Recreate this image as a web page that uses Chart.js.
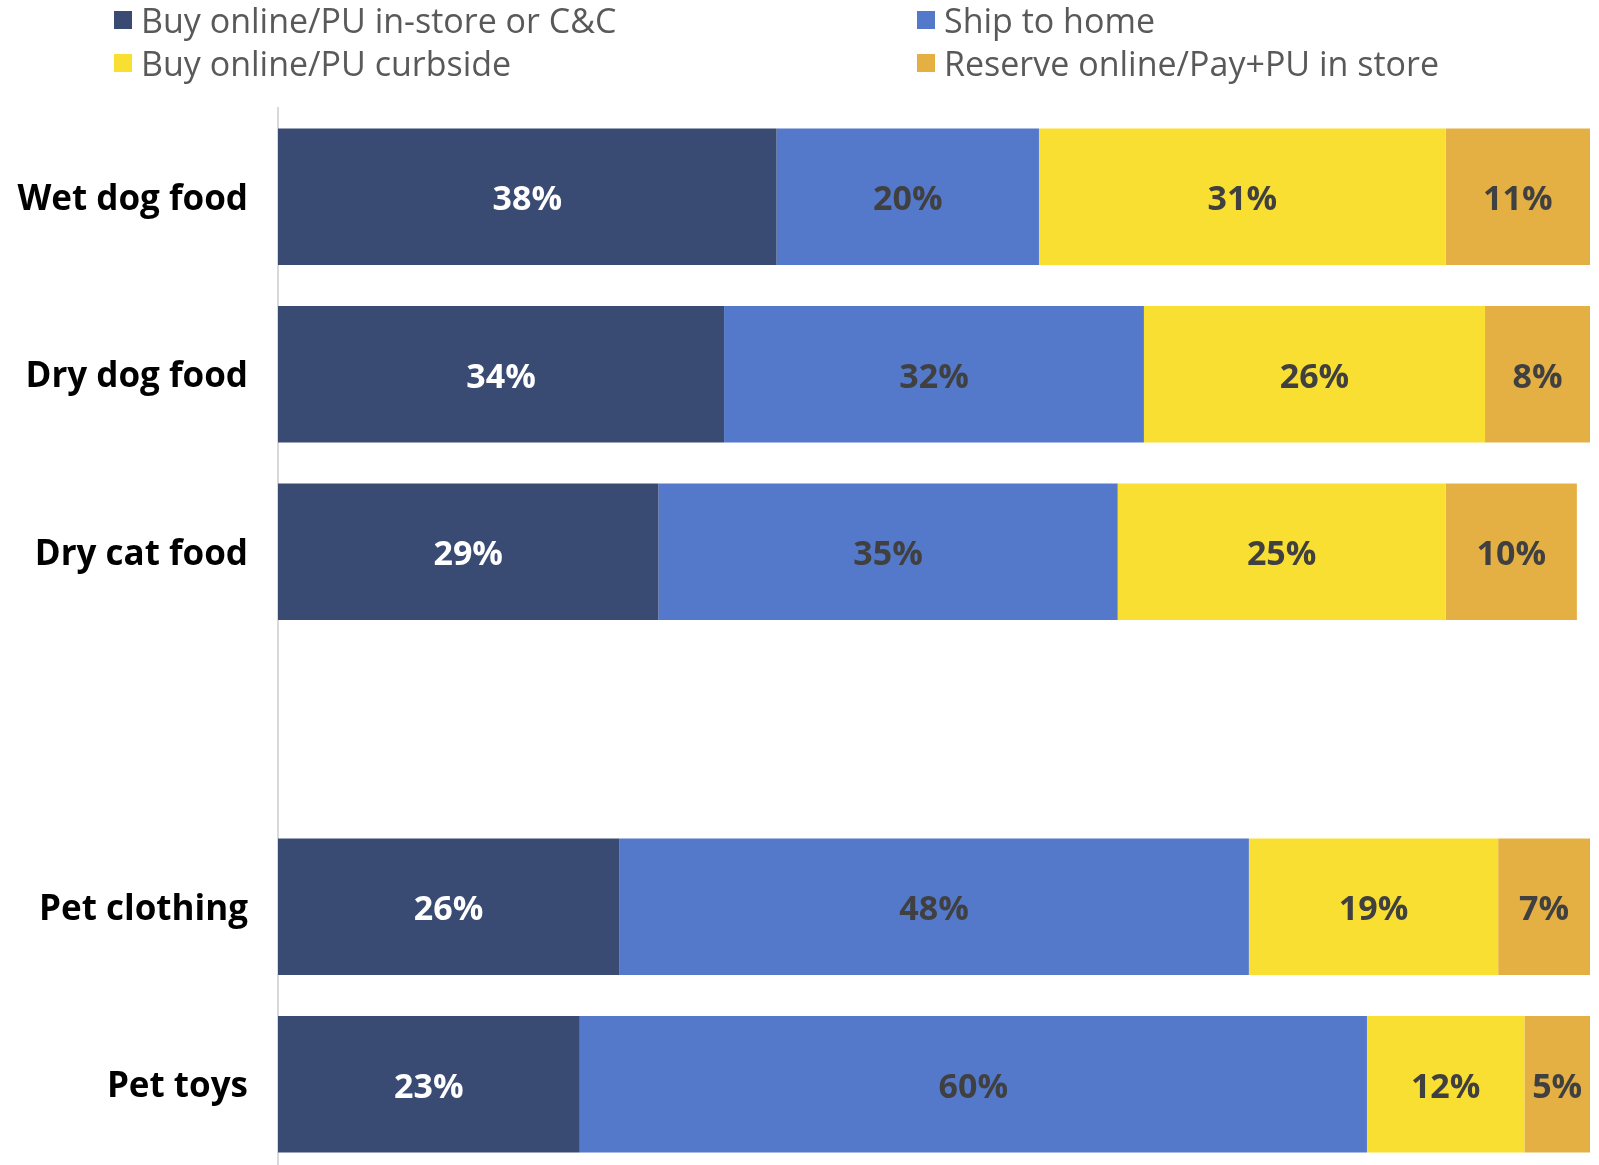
<!DOCTYPE html>
<html>
<head>
<meta charset="utf-8">
<script src="https://cdn.jsdelivr.net/npm/chart.js@4.4.1/dist/chart.umd.min.js"></script>
<style>
  html, body { margin: 0; padding: 0; background: #fff; overflow: hidden; }
  #wrap { position: relative; width: 1599px; height: 1176px; }
  #legend {
    position: absolute; left: 114px; top: -1px; width: 1480px;
    display: grid; grid-template-columns: 803px 600px; row-gap: 1px;
    font-family: "Open Sans", sans-serif; font-size: 34px; color: #595959;
  }
  .item { display: flex; align-items: center; height: 42px; white-space: nowrap; }
  .box { width: 18px; height: 18px; margin-right: 9px; flex: none; }
</style>
</head>
<body>
<div id="wrap">
  <canvas id="chartCanais"></canvas>
  <div id="legend"></div>
</div>
<script>
const categorias = ['Wet dog food', 'Dry dog food', 'Dry cat food', '', 'Pet clothing', 'Pet toys'];
const series = [
  'Buy online/PU in-store or C&C',
  'Ship to home',
  'Buy online/PU curbside',
  'Reserve online/Pay+PU in store'
];
const buyOnlineInStore = [38, 34, 29, null, 26, 23];
const shipToHome = [20, 32, 35, null, 48, 60];
const buyOnlineCurbside = [31, 26, 25, null, 19, 12];
const reserveOnline = [11, 8, 10, null, 7, 5];

const cores = ['#394a73', '#5479cb', '#f9df31', '#e4b043'];
const corTexto = ['#ffffff', '#404040', '#404040', '#404040'];

function renderiza_legenda() {
    const legend = document.getElementById('legend');
    // ordem em duas colunas: 0 1 / 2 3
    [0, 1, 2, 3].forEach(i => {
        const div = document.createElement('div');
        div.className = 'item';
        div.innerHTML = '<span class="box" style="background:' + cores[i] + '"></span>';
        div.appendChild(document.createTextNode(series[i]));
        legend.appendChild(div);
    });
}

function renderiza_canais() {
    const ctx = document.getElementById('chartCanais').getContext('2d');
    const valores = [buyOnlineInStore, shipToHome, buyOnlineCurbside, reserveOnline];

    new Chart(ctx, {
        type: 'bar',
        data: {
            labels: categorias,
            datasets: valores.map((v, i) => ({
                label: series[i],
                data: v,
                backgroundColor: cores[i],
                borderWidth: 0,
                barPercentage: 1,
                categoryPercentage: 0.77,
            }))
        },
        options: {
            indexAxis: 'y',
            responsive: true,
            maintainAspectRatio: false,
            animation: false,
            plugins: {
                legend: { display: false },
                tooltip: { enabled: false }
            },
            layout: { padding: { top: 108, right: 9, bottom: 3, left: 0 } },
            scales: {
                x: { stacked: true, min: 0, max: 100, display: false },
                y: {
                    stacked: true,
                    grid: { display: false, drawTicks: false },
                    border: { display: true, color: '#d9d9d9', width: 2 },
                    ticks: {
                        color: '#000',
                        padding: 30,
                        labelOffset: 3,
                        font: { family: 'Open Sans', size: 35, weight: 'bold' }
                    },
                    afterFit: function(scale) {
                        scale.width = 278;
                        // sem folga extra em cima/embaixo por causa dos rótulos
                        scale.paddingTop = 0;
                        scale.paddingBottom = 0;
                    }
                }
            }
        },
        plugins: [{
            id: 'rotulos',
            afterDatasetsDraw: function(chart) {
                const c = chart.ctx;
                c.save();
                c.font = 'bold 34px "Open Sans"';
                c.textAlign = 'center';
                c.textBaseline = 'middle';
                chart.data.datasets.forEach((ds, i) => {
                    const meta = chart.getDatasetMeta(i);
                    meta.data.forEach((bar, j) => {
                        const v = ds.data[j];
                        if (v === null || v === undefined) return;
                        const x = (bar.x + bar.base) / 2;
                        c.fillStyle = corTexto[i];
                        c.fillText(v + '%', x, bar.y + 4);
                    });
                });
                c.restore();
            }
        }]
    });
}

renderiza_legenda();
renderiza_canais();
</script>
</body>
</html>
